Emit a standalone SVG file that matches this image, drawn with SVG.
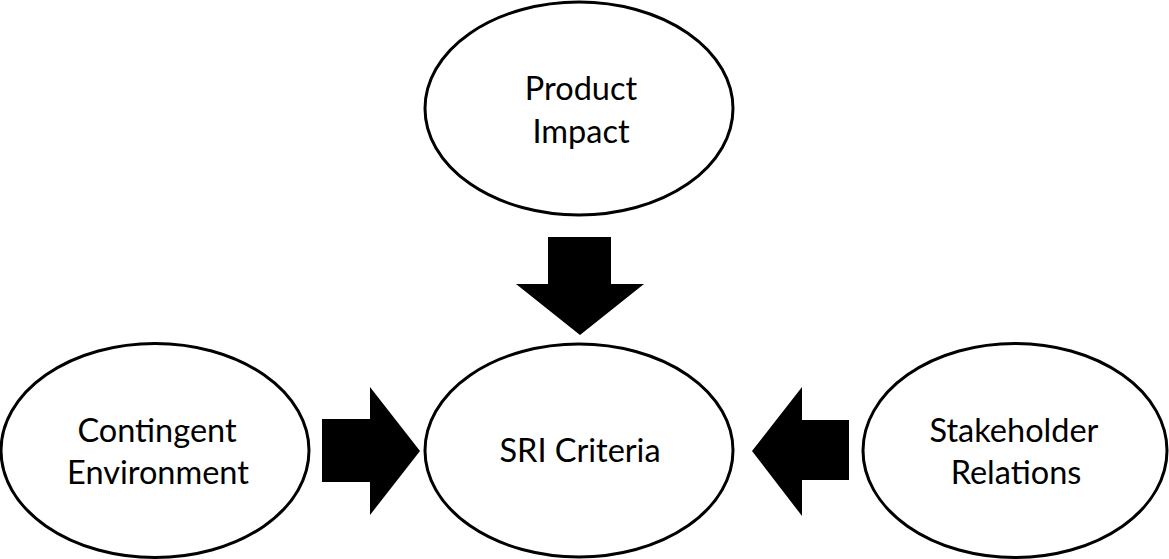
<svg xmlns="http://www.w3.org/2000/svg" width="1169" height="559" viewBox="0 0 1169 559">
<style>
.node ellipse{fill:#fff;stroke:#000;stroke-width:3}
.node text{font-family:Lato,"Open Sans","Liberation Sans",sans-serif;font-size:32.5px;fill:#000;text-anchor:middle}
.arrow{fill:#000;stroke:none}
</style>
<rect width="1169" height="559" fill="#fff"/>
<g id="product-impact" class="node">
<ellipse cx="579" cy="108.5" rx="154" ry="106.5"/>
<text x="581" y="100">Product</text>
<text x="581" y="143">Impact</text>
</g>
<g id="sri-criteria" class="node">
<ellipse cx="579" cy="450.5" rx="154" ry="106.5"/>
<text x="580" y="462">SRI Criteria</text>
</g>
<g id="contingent-environment" class="node">
<ellipse cx="155" cy="450.5" rx="154" ry="107"/>
<text x="157" y="442">Contingent</text>
<text x="158" y="484">Environment</text>
</g>
<g id="stakeholder-relations" class="node">
<ellipse cx="1015" cy="450.5" rx="152" ry="107"/>
<text x="1014" y="442">Stakeholder</text>
<text x="1016" y="484">Relations</text>
</g>
<g id="connectors">
<polygon class="arrow" points="548,237 611,237 611,284 644,284 580,335 516,284 548,284"/>
<polygon class="arrow" points="322,419 370,419 370,387 420,451 370,515 370,482 322,482"/>
<polygon class="arrow" points="849,420 802,420 802,387 752,451 802,516 802,480 849,480"/>
</g>
</svg>
